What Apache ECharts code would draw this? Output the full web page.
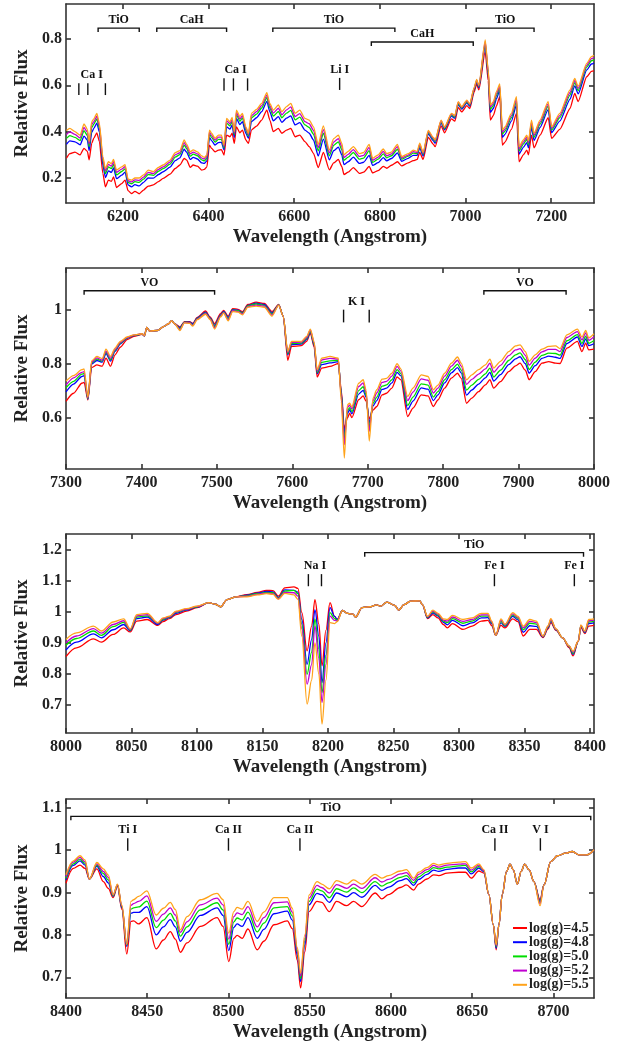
<!DOCTYPE html>
<html>
<head>
<meta charset="utf-8">
<script src="https://cdn.jsdelivr.net/npm/echarts@6/dist/echarts.min.js"></script>
<style>
html,body{margin:0;padding:0;background:#fff}
#chart{width:636px;height:1046px}
</style>
</head>
<body>
<div id="chart"></div>
<script>
// ---------- Panel 1: 6070-7300 A ----------
const wl1 = [6068,6076,6088,6100,6109,6117,6121,6127,6132,6139,6145,6153,6159,6166,6173,6178,6185,6197,6205,6212,6220,6228,6238,6248,6259,6271,6283,6294,6310,6322,6333,6343,6349,6357,6364,6374,6384,6390,6396,6402,6407,6415,6423,6430,6436,6442,6450,6455,6460,6465,6473,6479,6487,6493,6500,6512,6524,6536,6543,6551,6563,6571,6582,6592,6602,6613,6625,6635,6645,6656,6668,6682,6692,6703,6711,6716,6726,6738,6752,6762,6775,6783,6796,6808,6816,6827,6841,6851,6866,6878,6887,6893,6901,6913,6925,6929,6943,6951,6967,6975,6983,6991,7003,7010,7020,7026,7031,7046,7053,7058,7065,7072,7080,7086,7092,7107,7119,7125,7135,7143,7147,7154,7160,7174,7193,7201,7220,7244,7255,7263,7283,7294,7300];
const red1 = [.285,.305,.312,.30,.328,.315,.278,.349,.372,.395,.357,.22,.162,.191,.185,.205,.159,.176,.191,.145,.133,.142,.132,.148,.165,.17,.184,.198,.217,.241,.256,.284,.277,.246,.256,.251,.234,.237,.248,.342,.328,.313,.32,.322,.299,.385,.378,.393,.349,.421,.395,.407,.364,.349,.407,.424,.45,.493,.45,.40,.414,.393,.407,.414,.378,.385,.357,.335,.306,.245,.31,.235,.265,.28,.25,.215,.225,.245,.22,.225,.25,.222,.232,.25,.242,.255,.27,.252,.265,.275,.28,.31,.28,.375,.345,.335,.425,.395,.455,.445,.505,.485,.512,.50,.57,.605,.58,.745,.62,.45,.47,.51,.551,.342,.355,.41,.479,.27,.30,.32,.30,.385,.33,.385,.46,.371,.41,.50,.565,.53,.637,.66,.662];
const blue1 = [.345,.36,.356,.343,.381,.363,.318,.396,.414,.437,.397,.256,.202,.231,.224,.243,.197,.212,.225,.17,.162,.171,.166,.181,.20,.199,.215,.227,.247,.275,.287,.324,.311,.28,.289,.282,.265,.263,.274,.375,.361,.342,.353,.354,.321,.421,.411,.428,.375,.457,.43,.443,.393,.371,.443,.46,.486,.531,.486,.447,.465,.44,.458,.468,.429,.439,.407,.393,.364,.295,.368,.278,.318,.333,.30,.258,.27,.29,.263,.268,.298,.254,.266,.288,.274,.284,.308,.272,.285,.298,.298,.33,.295,.39,.36,.35,.438,.408,.467,.458,.518,.497,.524,.51,.58,.615,.59,.771,.643,.483,.50,.541,.579,.375,.388,.445,.515,.303,.332,.353,.33,.418,.362,.418,.495,.396,.445,.54,.598,.563,.666,.692,.696];
const green1 = [.371,.383,.375,.361,.404,.383,.335,.417,.432,.455,.414,.272,.219,.248,.24,.259,.213,.228,.239,.181,.175,.184,.181,.195,.215,.211,.229,.24,.26,.29,.301,.342,.326,.294,.303,.296,.278,.274,.285,.389,.375,.355,.367,.367,.33,.437,.425,.443,.386,.473,.445,.459,.405,.381,.459,.476,.502,.547,.502,.467,.487,.46,.48,.492,.451,.463,.429,.418,.389,.317,.393,.296,.341,.356,.322,.276,.29,.31,.281,.286,.318,.267,.281,.304,.287,.296,.324,.281,.294,.307,.305,.339,.302,.397,.367,.357,.443,.413,.472,.463,.523,.502,.529,.514,.584,.619,.594,.782,.653,.497,.513,.555,.591,.389,.402,.46,.531,.317,.346,.367,.343,.432,.375,.432,.51,.407,.46,.558,.612,.577,.679,.706,.711];
const magenta1 = [.388,.399,.388,.373,.418,.397,.346,.43,.443,.467,.425,.282,.23,.259,.251,.27,.224,.238,.249,.188,.183,.192,.19,.204,.224,.219,.237,.248,.269,.30,.309,.353,.335,.304,.312,.304,.286,.282,.292,.398,.384,.363,.376,.376,.336,.447,.434,.452,.393,.483,.455,.469,.413,.387,.469,.486,.512,.558,.512,.48,.501,.473,.494,.507,.465,.478,.443,.434,.405,.331,.409,.308,.355,.37,.336,.288,.302,.322,.293,.298,.332,.276,.29,.315,.296,.304,.335,.286,.299,.314,.31,.344,.306,.401,.371,.361,.447,.417,.476,.467,.527,.505,.533,.517,.587,.622,.597,.789,.66,.506,.522,.563,.598,.398,.411,.469,.541,.326,.355,.376,.352,.441,.384,.441,.52,.414,.469,.569,.621,.586,.687,.715,.72];
const orange1 = [.405,.414,.40,.385,.433,.41,.357,.443,.455,.479,.436,.292,.241,.27,.262,.28,.234,.248,.258,.195,.191,.20,.20,.213,.234,.227,.246,.256,.277,.309,.318,.364,.345,.313,.321,.313,.295,.289,.299,.407,.393,.371,.385,.385,.342,.457,.443,.462,.40,.493,.465,.479,.421,.393,.479,.496,.522,.568,.522,.493,.515,.486,.508,.522,.479,.493,.457,.45,.421,.345,.425,.32,.37,.385,.35,.30,.315,.335,.305,.31,.345,.285,.30,.325,.305,.312,.345,.292,.305,.32,.315,.35,.31,.405,.375,.365,.45,.42,.479,.47,.53,.508,.536,.52,.59,.625,.60,.796,.666,.515,.53,.572,.606,.407,.42,.479,.551,.335,.364,.385,.36,.45,.393,.45,.53,.421,.479,.58,.63,.595,.695,.724,.73];

// ---------- Panel 2: 7300-8000 A ----------
const wl2 = [7300,7310,7321,7324,7329,7334,7341,7348,7353,7359,7365,7372,7381,7390,7401,7404,7407,7411,7421,7430,7436,7440,7444,7451,7457,7464,7468,7474,7485,7491,7497,7505,7509,7515,7521,7528,7534,7541,7552,7563,7573,7582,7588,7594,7599,7612,7619,7624,7629,7633,7639,7650,7661,7665,7669,7673,7676,7679,7688,7694,7698,7702,7707,7712,7719,7725,7732,7739,7744,7753,7760,7771,7780,7787,7793,7802,7811,7819,7824,7831,7838,7847,7856,7862,7867,7876,7887,7896,7902,7909,7914,7922,7931,7940,7949,7955,7964,7978,7984,7989,7993,8000];
const red2 = [.66,.69,.727,.73,.665,.785,.795,.79,.82,.79,.832,.86,.888,.90,.908,.902,.933,.92,.922,.937,.947,.958,.947,.935,.955,.955,.948,.97,.994,.972,.947,.985,.996,.975,1.003,1.0,.992,1.018,1.027,1.022,.992,1.018,.975,.812,.863,.866,.882,.912,.86,.75,.783,.789,.80,.70,.56,.598,.616,.60,.666,.68,.66,.595,.628,.641,.684,.69,.709,.75,.74,.604,.635,.684,.68,.641,.665,.709,.746,.764,.745,.653,.672,.696,.721,.74,.709,.733,.77,.791,.801,.775,.74,.77,.801,.807,.801,.80,.857,.882,.844,.875,.85,.853];
const blue2 = [.695,.724,.752,.755,.668,.798,.811,.805,.837,.809,.845,.872,.893,.903,.909,.902,.933,.92,.922,.937,.947,.958,.947,.932,.953,.953,.946,.968,.99,.969,.941,.98,.993,.97,.999,.997,.988,1.015,1.023,1.018,.987,1.017,.975,.832,.87,.872,.888,.917,.867,.762,.796,.802,.807,.69,.54,.615,.629,.614,.687,.701,.674,.58,.643,.663,.704,.709,.728,.767,.754,.63,.661,.71,.705,.663,.684,.728,.765,.785,.765,.683,.702,.724,.747,.767,.735,.759,.796,.817,.825,.799,.764,.792,.819,.827,.823,.819,.874,.898,.863,.891,.866,.873];
const green2 = [.71,.734,.761,.763,.67,.802,.816,.809,.842,.814,.849,.875,.895,.904,.909,.902,.933,.92,.922,.937,.947,.958,.947,.929,.952,.951,.943,.966,.987,.967,.937,.977,.99,.966,.997,.995,.986,1.013,1.02,1.015,.983,1.017,.975,.837,.874,.875,.892,.92,.871,.766,.804,.81,.811,.685,.52,.625,.637,.622,.70,.714,.682,.565,.653,.676,.716,.721,.74,.777,.762,.645,.676,.725,.72,.676,.696,.74,.777,.798,.776,.702,.72,.741,.762,.783,.75,.775,.811,.832,.839,.814,.778,.805,.83,.838,.837,.831,.884,.907,.874,.901,.875,.885];
const magenta2 = [.72,.747,.767,.77,.672,.805,.821,.812,.846,.819,.852,.878,.896,.905,.91,.902,.933,.92,.922,.937,.947,.958,.947,.925,.951,.95,.941,.964,.985,.965,.932,.975,.988,.962,.995,.992,.983,1.01,1.016,1.012,.979,1.016,.975,.841,.878,.879,.896,.924,.876,.771,.813,.819,.816,.675,.50,.637,.646,.632,.715,.728,.692,.55,.663,.691,.73,.734,.753,.789,.772,.663,.694,.743,.738,.691,.709,.753,.79,.812,.79,.723,.741,.761,.78,.801,.768,.793,.829,.85,.855,.83,.794,.82,.843,.852,.852,.844,.896,.918,.887,.913,.886,.899];
const orange2 = [.735,.755,.777,.78,.675,.81,.826,.818,.853,.826,.857,.882,.898,.906,.91,.903,.933,.92,.922,.937,.947,.958,.947,.922,.95,.948,.938,.962,.982,.962,.927,.972,.986,.958,.992,.99,.98,1.008,1.012,1.008,.975,1.015,.975,.845,.882,.882,.90,.927,.88,.777,.82,.826,.82,.66,.45,.647,.653,.64,.727,.74,.70,.513,.672,.703,.742,.745,.764,.799,.78,.678,.709,.758,.752,.703,.72,.764,.801,.824,.801,.74,.758,.777,.795,.816,.783,.808,.844,.865,.869,.844,.808,.832,.853,.863,.865,.855,.906,.927,.898,.922,.895,.91];

// ---------- Panel 3: 8000-8403 A ----------
const wl3 = [8000,8008,8021,8027,8036,8044,8049,8054,8062,8070,8074,8079,8084,8092,8100,8109,8114,8118,8123,8130,8138,8146,8153,8158,8162,8167,8174,8177,8180,8184,8187.5,8190,8193,8195.4,8198.4,8201.5,8205,8207,8211,8215,8219,8221,8226,8232,8237,8240,8245,8251,8254,8258,8263,8270,8272,8276,8280,8284,8288,8291,8295,8303,8310,8317,8322,8325,8328,8332,8335,8341,8345,8349,8354,8359,8364,8368,8370,8374,8379,8384,8387,8391,8393,8396,8399,8403];
const red3 = [.856,.884,.913,.902,.927,.948,.935,.97,.975,.956,.968,.978,.991,1.002,1.013,1.029,1.024,1.016,1.039,1.048,1.055,1.062,1.069,1.068,1.05,1.077,1.08,1.075,.997,.874,.954,1.039,.96,.826,.94,1.029,.985,.975,1.004,.995,.992,.983,1.013,1.016,1.022,1.018,1.031,1.02,1.005,1.023,1.034,1.035,1.023,.978,.991,.98,.959,.948,.962,.943,.954,.97,.972,.955,.924,.956,.948,.977,.968,.922,.943,.943,.917,.945,.965,.94,.916,.885,.858,.905,.95,.93,.954,.956];
const blue3 = [.877,.902,.929,.916,.942,.959,.939,.978,.983,.959,.973,.981,.995,1.005,1.015,1.029,1.024,1.016,1.039,1.048,1.053,1.06,1.065,1.064,1.046,1.07,1.069,1.063,.975,.831,.91,1.007,.92,.772,.90,1.013,.985,.975,1.004,.995,.992,.983,1.013,1.016,1.022,1.018,1.031,1.02,1.005,1.023,1.034,1.035,1.023,.98,.996,.986,.966,.958,.972,.955,.964,.98,.981,.961,.924,.964,.953,.985,.974,.934,.955,.953,.919,.949,.97,.942,.916,.888,.863,.905,.953,.933,.962,.964];
const green3 = [.892,.914,.938,.924,.952,.966,.941,.983,.987,.962,.975,.983,.998,1.007,1.016,1.029,1.024,1.016,1.039,1.048,1.052,1.058,1.062,1.061,1.044,1.066,1.069,1.058,.96,.799,.87,.977,.88,.74,.86,.997,.978,.972,1.004,.995,.992,.983,1.013,1.016,1.022,1.018,1.031,1.02,1.005,1.023,1.034,1.035,1.023,.982,1.0,.989,.97,.965,.978,.963,.97,.986,.986,.964,.924,.969,.955,.989,.979,.942,.963,.96,.92,.951,.973,.943,.916,.889,.866,.905,.955,.935,.967,.969];
const magenta3 = [.90,.922,.946,.931,.959,.971,.943,.987,.991,.963,.978,.984,1.0,1.008,1.017,1.029,1.024,1.016,1.039,1.048,1.05,1.056,1.06,1.058,1.042,1.062,1.061,1.05,.945,.767,.83,.954,.85,.708,.83,.986,.972,.97,1.004,.995,.992,.983,1.013,1.016,1.022,1.018,1.031,1.02,1.005,1.023,1.034,1.035,1.023,.984,1.002,.992,.973,.97,.983,.969,.975,.99,.99,.967,.924,.973,.958,.993,.982,.948,.969,.965,.921,.953,.975,.944,.916,.89,.87,.905,.956,.936,.971,.973];
const orange3 = [.911,.932,.954,.938,.967,.977,.945,.991,.995,.965,.98,.986,1.002,1.01,1.018,1.029,1.024,1.016,1.039,1.048,1.048,1.054,1.058,1.056,1.04,1.059,1.054,1.04,.922,.703,.78,.90,.80,.639,.78,.965,.962,.968,1.004,.995,.992,.983,1.013,1.016,1.022,1.018,1.031,1.02,1.005,1.023,1.034,1.035,1.023,.985,1.005,.995,.977,.975,.988,.975,.98,.995,.995,.97,.924,.977,.96,.997,.985,.954,.975,.97,.922,.955,.978,.945,.916,.89,.873,.905,.958,.938,.975,.977];

// ---------- Panel 4: 8400-8725 A ----------
const wl4 = [8400,8404.5,8408.6,8411.7,8414.4,8419,8423,8426,8429,8431.7,8434.4,8437.4,8440,8441.6,8444.7,8449.8,8455.5,8460,8464.2,8467.3,8470.4,8474.5,8482.7,8493,8496.7,8500.2,8503.3,8505.3,8508.4,8512,8517.7,8521.8,8528,8536.2,8539.3,8542.4,8544.4,8547,8549.6,8554.5,8557.4,8562.1,8566.6,8572.8,8577,8582.1,8590.3,8594.4,8598.5,8605.8,8609.5,8614,8617,8622.2,8626.3,8629.4,8634.6,8641.8,8645.9,8649.4,8654.1,8657.2,8660.3,8663,8664.8,8666.5,8668.5,8671.2,8673.3,8675.3,8677.8,8680.2,8682.3,8685,8688,8691.8,8694.2,8698.4,8702.5,8707.6,8711.7,8715.8,8720.6,8725];
const red4 = [.922,.957,.965,.957,.932,.956,.926,.91,.888,.915,.86,.755,.832,.833,.826,.841,.767,.788,.808,.79,.759,.781,.82,.841,.82,.737,.792,.799,.792,.814,.765,.785,.824,.833,.815,.74,.675,.76,.855,.879,.877,.855,.879,.869,.879,.867,.899,.885,.895,.912,.918,.906,.92,.932,.942,.94,.946,.948,.948,.934,.951,.946,.895,.824,.765,.824,.895,.95,.967,.954,.92,.95,.967,.954,.926,.883,.918,.973,.987,.993,.997,.989,.989,1.001];
const blue4 = [.93,.964,.975,.965,.932,.962,.938,.923,.891,.917,.864,.773,.851,.853,.853,.867,.80,.819,.836,.819,.785,.806,.846,.864,.846,.763,.818,.826,.82,.841,.792,.813,.85,.856,.835,.752,.69,.776,.871,.898,.895,.877,.899,.89,.90,.889,.917,.905,.913,.928,.933,.917,.931,.943,.953,.95,.955,.958,.958,.944,.958,.949,.895,.824,.768,.824,.895,.95,.967,.954,.92,.95,.967,.954,.926,.88,.918,.973,.987,.993,.997,.989,.989,1.001];
const green4 = [.934,.968,.979,.969,.932,.965,.945,.93,.892,.918,.866,.776,.861,.864,.866,.88,.817,.835,.851,.833,.797,.819,.859,.876,.859,.778,.831,.84,.835,.854,.807,.828,.864,.867,.845,.759,.697,.785,.879,.908,.904,.888,.909,.901,.911,.90,.926,.915,.923,.936,.94,.923,.937,.949,.959,.956,.96,.963,.964,.949,.962,.951,.895,.824,.772,.824,.895,.95,.967,.954,.92,.95,.967,.954,.926,.877,.918,.973,.987,.993,.997,.989,.989,1.001];
const magenta4 = [.938,.972,.983,.973,.932,.968,.95,.936,.894,.919,.868,.778,.87,.874,.879,.892,.832,.849,.864,.847,.806,.831,.871,.887,.871,.79,.843,.852,.848,.867,.819,.841,.876,.878,.854,.764,.703,.792,.887,.917,.912,.899,.919,.91,.92,.91,.935,.925,.931,.944,.947,.929,.943,.954,.964,.96,.965,.967,.968,.953,.965,.952,.895,.824,.775,.824,.895,.95,.967,.954,.92,.95,.967,.954,.926,.874,.918,.973,.987,.993,.997,.989,.989,1.001];
const orange4 = [.942,.975,.987,.977,.932,.971,.956,.942,.895,.92,.87,.778,.879,.883,.891,.904,.847,.863,.877,.86,.812,.843,.883,.898,.883,.804,.855,.865,.861,.879,.832,.854,.888,.888,.863,.77,.71,.80,.894,.926,.92,.909,.928,.92,.93,.92,.943,.934,.94,.951,.954,.934,.948,.959,.969,.965,.969,.972,.973,.958,.968,.954,.895,.824,.777,.824,.895,.95,.967,.954,.92,.95,.967,.954,.926,.869,.918,.973,.987,.993,.997,.989,.989,1.001];

// ---------- Axis tick labels ----------
const xTicks1 = [6200, 6400, 6600, 6800, 7000, 7200];
const yTicks1 = [0.2, 0.4, 0.6, 0.8];
const xTicks2 = [7300, 7400, 7500, 7600, 7700, 7800, 7900, 8000];
const yTicks2 = [0.6, 0.8, 1];
const xTicks3 = [8000, 8050, 8100, 8150, 8200, 8250, 8300, 8350, 8400];
const yTicks3 = [0.7, 0.8, 0.9, 1, 1.1, 1.2];
const xTicks4 = [8400, 8450, 8500, 8550, 8600, 8650, 8700];
const yTicks4 = [0.7, 0.8, 0.9, 1, 1.1];

// ---------- Spectral feature annotations ----------
// bands: [label, from, to, level]; lines: [label, labelAt, positions, top, bottom]
const bands1 = [['TiO', 6142, 6238, 0.847], ['CaH', 6279, 6442, 0.847], ['TiO', 6550, 6835, 0.847], ['CaH', 6780, 7018, 0.787], ['TiO', 7025, 7160, 0.847]];
const lines1 = [['Ca I', 6127, [6097, 6118, 6159], 0.609, 0.558], ['Ca I', 6463, [6436, 6458, 6491], 0.630, 0.577], ['Li I', 6706, [6706], 0.632, 0.580]];
const bands2 = [['VO', 7324, 7497, 1.069], ['VO', 7854, 7963, 1.069]];
const lines2 = [['K I', 7685, [7668, 7702], 0.999, 0.952]];
const bands3 = [['TiO', 8228, 8395, 1.19]];
const lines3 = [['Na I', 8190, [8185, 8195], 1.121, 1.082], ['Fe I', 8327, [8327], 1.121, 1.082], ['Fe I', 8388, [8388], 1.121, 1.082]];
const bands4 = [['TiO', 8403, 8723, 1.080]];
const lines4 = [['Ti I', 8438, [8438], 1.0285, 0.999], ['Ca II', 8500, [8500], 1.0285, 0.999], ['Ca II', 8544, [8544], 1.0285, 0.999], ['Ca II', 8664, [8664], 1.0285, 0.999], ['V I', 8692, [8692], 1.0285, 0.999]];

const seriesNames = ['log(g)=4.5', 'log(g)=4.8', 'log(g)=5.0', 'log(g)=5.2', 'log(g)=5.5'];
const seriesColors = ['#ff0000', '#0000ff', '#00dd00', '#c000d0', '#ffa31a'];

const FONT = '"Liberation Serif", "Times New Roman", "DejaVu Serif", serif';
const INK = '#222';
const FRAME = '#333';

const panels = [
  { wl: wl1, flux: [red1, blue1, green1, magenta1, orange1], x: [6067, 7300], y: [0.092, 0.951], xt: xTicks1, yt: yTicks1, bands: bands1, lines: lines1, top: 4, height: 199, smooth: 0.2 },
  { wl: wl2, flux: [red2, blue2, green2, magenta2, orange2], x: [7300, 8000], y: [0.41, 1.153], xt: xTicks2, yt: yTicks2, bands: bands2, lines: lines2, top: 268, height: 201, smooth: 0.25 },
  { wl: wl3, flux: [red3, blue3, green3, magenta3, orange3], x: [8000, 8403], y: [0.61, 1.25], xt: xTicks3, yt: yTicks3, bands: bands3, lines: lines3, top: 534, height: 199, smooth: 0.35 },
  { wl: wl4, flux: [red4, blue4, green4, magenta4, orange4], x: [8400, 8725], y: [0.651, 1.121], xt: xTicks4, yt: yTicks4, bands: bands4, lines: lines4, top: 799, height: 199, smooth: 0.35 }
];

const lineStyle = { color: FRAME, width: 1.6 };
const plain = v => String(v);
const grid = [], xAxis = [], yAxis = [], series = [];

panels.forEach((p, i) => {
  grid.push({ left: 66, width: 528, top: p.top, height: p.height });
  const tickCfg = (vals) => ({ show: true, inside: true, length: 5, lineStyle, customValues: vals });
  xAxis.push({
    type: 'value', gridIndex: i, min: p.x[0], max: p.x[1], position: 'bottom',
    axisLine: { show: true, onZero: false, lineStyle },
    axisTick: tickCfg(p.xt),
    axisLabel: { customValues: p.xt, formatter: plain, color: INK, fontFamily: FONT, fontWeight: 'bold', fontSize: 16, margin: 6 },
    splitLine: { show: false },
    name: 'Wavelength (Angstrom)', nameLocation: 'middle', nameGap: 25,
    nameTextStyle: { color: INK, fontFamily: FONT, fontWeight: 'bold', fontSize: 19 }
  });
  xAxis.push({
    type: 'value', gridIndex: i, min: p.x[0], max: p.x[1], position: 'top',
    axisLine: { show: true, onZero: false, lineStyle },
    axisTick: tickCfg(p.xt), axisLabel: { show: false }, splitLine: { show: false }
  });
  yAxis.push({
    type: 'value', gridIndex: i, min: p.y[0], max: p.y[1], position: 'left',
    axisLine: { show: true, onZero: false, lineStyle },
    axisTick: tickCfg(p.yt),
    axisLabel: { customValues: p.yt, formatter: plain, color: INK, fontFamily: FONT, fontWeight: 'bold', fontSize: 16, margin: 4 },
    splitLine: { show: false },
    name: 'Relative Flux', nameLocation: 'middle', nameGap: 27,
    nameTextStyle: { color: INK, fontFamily: FONT, fontWeight: 'bold', fontSize: 19 }
  });
  yAxis.push({
    type: 'value', gridIndex: i, min: p.y[0], max: p.y[1], position: 'right',
    axisLine: { show: true, onZero: false, lineStyle },
    axisTick: tickCfg(p.yt), axisLabel: { show: false }, splitLine: { show: false }
  });

  p.flux.forEach((f, k) => {
    series.push({
      type: 'line', name: seriesNames[k], xAxisIndex: 2 * i, yAxisIndex: 2 * i,
      data: p.wl.map((w, j) => [w, f[j]]),
      showSymbol: false, symbol: 'none', smooth: p.smooth, smoothMonotone: 'x',
      lineStyle: { color: seriesColors[k], width: 1.3 },
      itemStyle: { color: seriesColors[k] },
      silent: true, z: 2 + k
    });
  });

  // feature marks: brackets for molecular bands, ticks for atomic lines
  const items = p.bands.map(b => ({ kind: 'band', d: b })).concat(p.lines.map(l => ({ kind: 'line', d: l })));
  series.push({
    type: 'custom', xAxisIndex: 2 * i, yAxisIndex: 2 * i, silent: true, z: 10,
    data: items.map(it => [it.d[1], it.d[3]]),
    renderItem: (params, api) => {
      const it = items[params.dataIndex];
      const txt = (label, x, y) => ({
        type: 'text',
        style: { text: label, x, y, align: 'center', verticalAlign: 'bottom', fontFamily: FONT, fontWeight: 'bold', fontSize: 12, fill: '#111' }
      });
      const stroke = { stroke: '#111', lineWidth: 1.4, fill: null };
      if (it.kind === 'band') {
        const [label, a, b, lev] = it.d;
        const p1 = api.coord([a, lev]), p2 = api.coord([b, lev]);
        return {
          type: 'group', children: [
            { type: 'polyline', shape: { points: [[p1[0], p1[1] + 4], [p1[0], p1[1]], [p2[0], p2[1]], [p2[0], p2[1] + 4]] }, style: stroke },
            txt(label, (p1[0] + p2[0]) / 2, p1[1] - 2)
          ]
        };
      }
      const [label, at, pos, top, bot] = it.d;
      const children = pos.map(w => {
        const a = api.coord([w, top]), b = api.coord([w, bot]);
        return { type: 'line', shape: { x1: a[0], y1: a[1], x2: b[0], y2: b[1] }, style: stroke };
      });
      const lp = api.coord([at, top]);
      children.push(txt(label, lp[0], lp[1] - 2));
      return { type: 'group', children };
    }
  });
});

const chart = echarts.init(document.getElementById('chart'), null, { renderer: 'canvas' });
chart.setOption({
  animation: false,
  backgroundColor: '#fff',
  grid, xAxis, yAxis, series,
  legend: {
    data: seriesNames, orient: 'vertical', left: 508, top: 916,
    icon: 'rect', itemWidth: 14, itemHeight: 2, itemGap: 0.2, selectedMode: false,
    textStyle: { color: INK, fontFamily: FONT, fontWeight: 'bold', fontSize: 14, lineHeight: 14, padding: [0, 0, 0, -3] }
  }
});
</script>
</body>
</html>
